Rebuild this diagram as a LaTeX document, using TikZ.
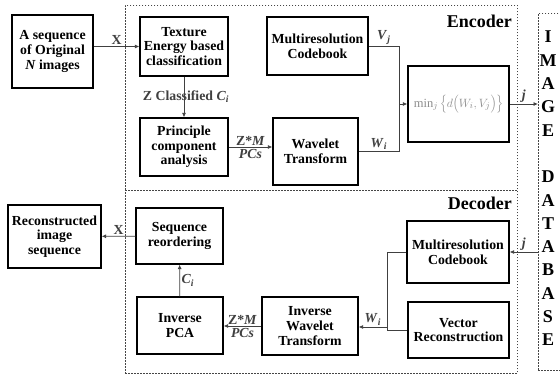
\documentclass[tikz,border=0pt]{standalone}
\usepackage{fontspec}
\setmainfont{Liberation Serif}
\usetikzlibrary{arrows.meta,calc}
\definecolor{framegray}{RGB}{70,70,70}
\newcommand{\idx}[2]{\textit{#1}\textsubscript{\textit{#2}}}

\begin{document}
\begin{tikzpicture}[
  x=1pt,y=-1pt,
  font=\fontsize{13.8}{14.6}\selectfont\bfseries,
  box/.style={draw=black,line width=1.2pt,align=center,inner sep=1pt},
  frame/.style={draw=framegray,line width=0.7pt,dash pattern=on 1.6pt off 1.4pt,inner sep=0pt},
  ar/.style={-{Latex[length=4.5pt,width=4pt]},black!75,line width=0.8pt},
  ln/.style={black!75,line width=0.8pt},
  lbl/.style={inner sep=1.5pt},
  big/.style={font=\fontsize{18}{23.3}\selectfont\bfseries,inner sep=0pt},
]
\clip (0,0) rectangle (560,375);
\fill[white] (0,0) rectangle (560,375);

% the three dashed frames
\node[frame,anchor=north west,minimum width=392pt,minimum height=185pt] (enc) at (125,5) {};
\node[frame,anchor=north west,minimum width=392pt,minimum height=183pt] (dec) at (125,190) {};
\node[frame,anchor=north west,minimum width=40pt,minimum height=357pt] (db) at (538,13) {};
\node[big,anchor=base east] at (512,27) {Encoder};
\node[big,anchor=base east] at (512,209) {Decoder};
\node[big,align=center] (dbtxt) at (548,188.5) {I\\M\\A\\G\\E\\~\\D\\A\\T\\A\\B\\A\\S\\E};

% encoder
\node[box,minimum width=81pt,minimum height=73pt] (seq) at (52.5,51.5) {A sequence\\of Original\\\textit{N} images};
\node[box,minimum width=88pt,minimum height=59pt] (tex) at (184,46.5) {Texture\\Energy based\\classification};
\node[box,minimum width=88pt,minimum height=58pt] (pca) at (184,147) {Principle\\component\\analysis};
\node[box,minimum width=101pt,minimum height=58pt] (cbe) at (317.5,46) {Multiresolution\\Codebook};
\node[box,minimum width=85pt,minimum height=67pt] (wav) at (315.5,151.5) {Wavelet\\Transform};
\node[box,minimum width=101pt,minimum height=76pt] (minb) at (458.5,104)
  {\textcolor{black!45}{\mdseries\fontsize{12.5}{14}\selectfont$\min_j\Big\{d\Big(W_i,V_j\Big)\Big\}$}};
\coordinate (ejn) at (399,104);

\draw[ar] (seq.east |- tex.west) -- node[lbl,above] {X} (tex.west);
\draw[ar] (tex) -- node[lbl,xshift=2pt] {Z Classified \idx{C}{i}} (pca);
\draw[ar] (pca.east) -- node[lbl,above] {Z*\textit{M}} node[lbl,below] {\textit{PCs}} (pca.east -| wav.west);
\draw[ln] (cbe.east) -| node[lbl,above,pos=0.25] {\idx{V}{j}} (ejn);
\draw[ln] (wav.east) -| node[lbl,above,pos=0.25] {\idx{W}{i}} (ejn);
\draw[ar] (ejn) -- (minb.west);
\draw[ar] (minb.east) -- node[lbl,above] {\textit{j}} (minb.east -| db.west);

% decoder
\node[box,minimum width=93pt,minimum height=63pt] (rec) at (54.5,236.5) {Reconstructed\\image\\sequence};
\node[box,minimum width=87pt,minimum height=56pt] (sro) at (179.5,236) {Sequence\\reordering};
\node[box,minimum width=86pt,minimum height=57pt] (ipca) at (180,325.5) {Inverse\\PCA};
\node[box,minimum width=96pt,minimum height=58pt] (iwav) at (310,326) {Inverse\\Wavelet\\Transform};
\node[box,minimum width=102pt,minimum height=62pt] (cbd) at (458,252) {Multiresolution\\Codebook};
\node[box,minimum width=101pt,minimum height=56pt] (vrec) at (458.5,330) {Vector\\Reconstruction};
\coordinate (djn) at (387,327);

\draw[ar] (db.west |- cbd.east) -- node[lbl,above] {\textit{j}} (cbd.east);
\draw[ln] (cbd.west) -| (djn |- vrec.west) -- (vrec.west);
\draw[ar] (djn) -- node[lbl,above] {\idx{W}{i}} (djn -| iwav.east);
\draw[ar] (iwav.west) -- node[lbl,above] {Z*\textit{M}} node[lbl,below] {\textit{PCs}} (iwav.west -| ipca.east);
\draw[ar] (ipca) -- node[lbl,right] {\idx{C}{i}} (sro);
\draw[ar] (sro) -- node[lbl,above] {X} (rec);
\end{tikzpicture}
\end{document}
